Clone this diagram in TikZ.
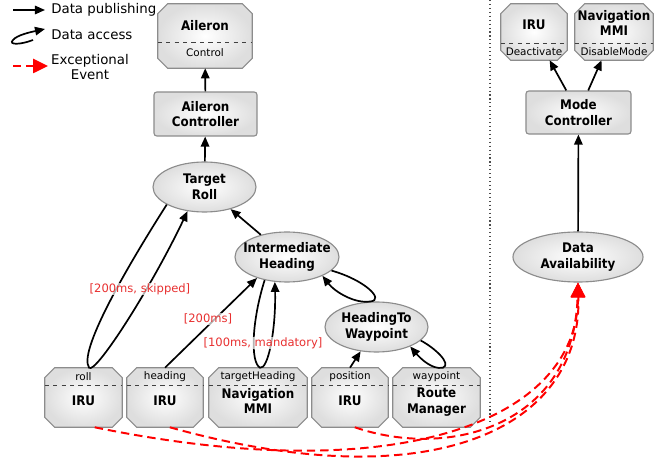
\documentclass[tikz,border=0pt]{standalone}
\usepackage{fontspec}
\setmainfont{DejaVu Sans}
\newfontfamily\boxfont{DejaVu Sans Condensed}
\usetikzlibrary{shapes.geometric,arrows.meta}

\definecolor{ratered}{RGB}{232,48,48}

\begin{document}
\begin{tikzpicture}[x=0.025cm,y=-0.025cm,
  box/.style={draw=black!45, line width=0.8pt, inner color=white, outer color=black!13},
  portbox/.style={rectangle, inner sep=0pt},
  ctrlbox/.style={box, rectangle, rounded corners=2pt, inner sep=0pt, boxtext},
  cell/.style={box, ellipse, inner sep=0pt},
  boxtext/.style={font=\boxfont\fontsize{9.4}{11}\selectfont\bfseries, align=center, inner sep=0pt},
  porttext/.style={font=\fontsize{7.4}{8.5}\selectfont, inner sep=0pt},
  portline/.style={black!75, dashed, line width=0.6pt},
  pub/.style={-{Triangle[length=0.25cm,width=0.21cm]}, line width=1.2pt},
  event/.style={-{Triangle[length=0.37cm,width=0.35cm]}, red, line width=1.4pt, dash pattern=on 6pt off 3.5pt},
  rate/.style={font=\fontsize{8.2}{10}\selectfont, text=ratered, fill=white, fill opacity=0.7, text opacity=1, inner sep=0.5pt},
  legend/.style={font=\fontsize{9.5}{11}\selectfont, inner sep=0pt}
]
\useasboundingbox (0,0) rectangle (667,465);

% Legend
\coordinate (pub-a) at (13,10);
\coordinate (pub-b) at (45,10);
\draw[pub] (pub-a) -- (pub-b);
\node[legend, anchor=west] (pub-t) at (51,10) {Data publishing};
\coordinate (acc-a) at (33,40);
\coordinate (acc-b) at (45,29);
\draw[pub] (acc-a) .. controls (20,45) and (8,45) .. (13,40) .. controls (17,35) and (31,32) .. (acc-b);
\node[legend, anchor=west] (acc-t) at (51,35) {Data access};
\coordinate (ev-a) at (13,66);
\coordinate (ev-b) at (48,66);
\draw[event] (ev-a) -- (ev-b);
\node[legend, align=center] (ev-t) at (90,67) {Exceptional\\Event};

% Separator
\draw[black!70, dotted, line width=0.8pt] (490,0) -- (490,423);

% Port boxes (outlines drawn below)
\node[portbox, minimum width=2.35cm, minimum height=1.6cm] (aileron) at (205,36) {};
\node[portbox, minimum width=1.925cm, minimum height=1.475cm] (iruroll) at (83.5,397.5) {};
\node[portbox, minimum width=1.9cm, minimum height=1.475cm] (iruhead) at (165,397.5) {};
\node[portbox, minimum width=2.45cm, minimum height=1.475cm] (navmmi) at (258,397.5) {};
\node[portbox, minimum width=1.9cm, minimum height=1.475cm] (irupos) at (350,397.5) {};
\node[portbox, minimum width=2.175cm, minimum height=1.475cm] (route) at (436.5,397.5) {};
\node[portbox, minimum width=1.65cm, minimum height=1.4cm] (iruright) at (534,32) {};
\node[portbox, minimum width=1.95cm, minimum height=1.4cm] (navright) at (614,32) {};

\foreach \b in {aileron,iruroll,iruhead,navmmi,irupos,route,iruright,navright}
  \draw[box] ([xshift=0.25cm]\b.north west) -- ([xshift=-0.25cm]\b.north east)
    -- ([yshift=-0.25cm]\b.north east) -- ([yshift=0.25cm]\b.south east)
    -- ([xshift=-0.25cm]\b.south east) -- ([xshift=0.25cm]\b.south west)
    -- ([yshift=0.25cm]\b.south west) -- ([yshift=-0.25cm]\b.north west) -- cycle;

% Aileron side
\node[boxtext] (aileron-n) at (205,26) {Aileron};
\node[porttext] (aileron-p) at (205,53) {Control};
\draw[portline] (aileron.west |- 0,42) -- (aileron.east |- 0,42);

\node[ctrlbox, minimum width=2.575cm, minimum height=1.1cm] (ailctrl) at (205.5,114) {Aileron\\Controller};

\node[cell, minimum width=2.575cm, minimum height=1.25cm] (troll) at (204.5,187) {};
\node[boxtext] (troll-n) at (troll) {Target\\Roll};
\node[cell, minimum width=2.6cm, minimum height=1.25cm] (ih) at (287,257) {};
\node[boxtext] (ih-n) at (ih) {Intermediate\\Heading};
\node[cell, minimum width=2.575cm, minimum height=1.25cm] (htw) at (376.5,327) {};
\node[boxtext] (htw-n) at (htw) {HeadingTo\\Waypoint};

% Data sources
\node[porttext] (iruroll-p) at (83.5,377) {roll};
\node[boxtext] (iruroll-n) at (83.5,401) {IRU};
\draw[portline] (iruroll.west |- 0,385) -- (iruroll.east |- 0,385);

\node[porttext] (iruhead-p) at (165,377) {heading};
\node[boxtext] (iruhead-n) at (165,401) {IRU};
\draw[portline] (iruhead.west |- 0,385) -- (iruhead.east |- 0,385);

\node[porttext] (navmmi-p) at (258,377) {targetHeading};
\node[boxtext] (navmmi-n) at (258,401) {Navigation\\MMI};
\draw[portline] (navmmi.west |- 0,385) -- (navmmi.east |- 0,385);

\node[porttext] (irupos-p) at (350,377) {position};
\node[boxtext] (irupos-n) at (350,401) {IRU};
\draw[portline] (irupos.west |- 0,385) -- (irupos.east |- 0,385);

\node[porttext] (route-p) at (436.5,377) {waypoint};
\node[boxtext] (route-n) at (436.5,402) {Route\\Manager};
\draw[portline] (route.west |- 0,385) -- (route.east |- 0,385);

% Publishing
\draw[pub] (ailctrl) -- (aileron);
\draw[pub] (troll) -- (ailctrl);
\draw[pub] (ih) -- (troll);
\draw[pub] (iruhead.north) -- (ih.215);
\draw[pub] (irupos.north) -- (htw);

% Data access
\draw[pub] (troll.205) .. controls (125,270) and (78,352) .. ([xshift=0.14cm]iruroll.north)
  .. controls (95,375) and (150,290) .. (troll.235);
\draw[pub] (ih.226) .. controls (252,320) and (250,362) .. ([xshift=0.05cm]navmmi.north)
  .. controls (268,370) and (276,330) .. (ih.244);
\draw[pub] (ih.343) .. controls (365,280) and (385,300) .. ([xshift=-0.15cm]htw.north)
  .. controls (355,304) and (335,292) .. (ih.332);
\draw[pub] (htw.343) .. controls (435,348) and (452,364) .. ([xshift=0.16cm]route.north)
  .. controls (432,370) and (420,358) .. (htw.330);

\node[rate] (r-skip) at (140,289) {[200ms, skipped]};
\node[rate] (r-200) at (208,319) {[200ms]};
\node[rate] (r-100) at (263,343) {[100ms, mandatory]};

% Mode side
\node[boxtext] (iruright-n) at (534,25) {IRU};
\node[porttext] (iruright-p) at (534,52) {Deactivate};
\draw[portline] (iruright.west |- 0,43) -- (iruright.east |- 0,43);

\node[boxtext] (navright-n) at (614,23) {Navigation\\MMI};
\node[porttext] (navright-p) at (614,52) {DisableMode};
\draw[portline] (navright.west |- 0,43) -- (navright.east |- 0,43);

\node[ctrlbox, minimum width=2.625cm, minimum height=1.075cm] (modectrl) at (578.5,112.5) {Mode\\Controller};
\node[cell, minimum width=3.25cm, minimum height=1.25cm] (dataav) at (578,257) {};
\node[boxtext] (dataav-n) at (dataav) {Data\\Availability};

\draw[pub] (modectrl) -- (iruright);
\draw[pub] (modectrl) -- (navright);
\draw[pub] (dataav) -- (modectrl);

% Exceptional events
\draw[event] ([xshift=0.28cm]iruroll.south) .. controls (400,490) and (578,420) .. (dataav.south);
\draw[event] ([xshift=0.12cm]iruhead.south) .. controls (430,500) and (582,430) .. (dataav.south);
\draw[event] ([xshift=0.12cm]irupos.south) .. controls (450,460) and (574,425) .. (dataav.south);
\end{tikzpicture}
\end{document}
